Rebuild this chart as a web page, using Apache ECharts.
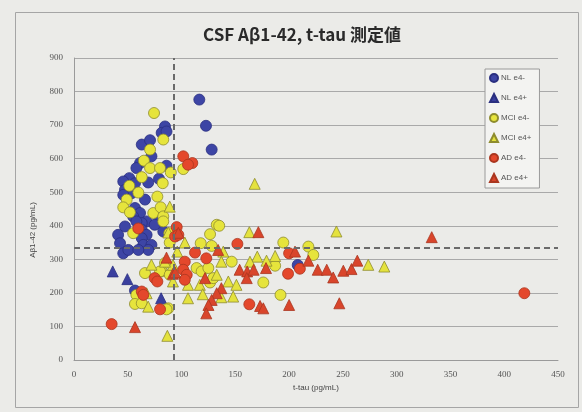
<!DOCTYPE html>
<html><head><meta charset="utf-8">
<script src="https://cdn.jsdelivr.net/npm/echarts@6/dist/echarts.min.js"></script>
<style>html,body{margin:0;padding:0;background:#ebebe8;}#c{width:582px;height:412px;}</style>
</head><body><div id="c"></div>
<script>
const seriesNames = ['NL e4-', 'NL e4+', 'MCI e4-', 'MCI e4+', 'AD e4-', 'AD e4+'];
const xTicks = [0, 50, 100, 150, 200, 250, 300, 350, 400, 450];
const yTicks = [0, 100, 200, 300, 400, 500, 600, 700, 800, 900];
const tauCutoff = 93;
const abCutoff = 335;

const nlNeg = [[116.5,776],[122.7,698],[128,627],[84.6,696],[81.5,677],[86,681],[63,642],[70.7,655],[72,607],[61.4,587],[58,572],[86,579],[51.4,542],[45.8,532],[47.4,507],[69,529],[56.7,527],[79,540],[66,478],[53.6,497],[45.8,492],[56.7,453],[61.4,438],[55,428],[67.5,413],[63,408],[47.4,398],[80,418],[75,403],[58,413],[63,388],[67.5,373],[83,383],[63,363],[41,373],[42.8,348],[45.8,318],[50.5,328],[64.4,343],[72,343],[69,328],[59.8,328],[56.7,207],[208,283]];
const nlPos = [[36,264],[49.6,241],[81,184]];
const mciNeg = [[74.4,736],[83,657],[70.7,627],[65,594],[70.7,572],[80,572],[90,559],[101.6,569],[63,545],[51.4,519],[82.5,527],[59.8,499],[77.5,487],[49,478],[45.8,455],[52,440],[73.7,438],[80.6,455],[83,428],[132.7,403],[83,413],[55,378],[135,400],[126.5,375],[88.6,378],[89,350],[117.8,348],[128,340],[194.6,350],[217.9,338],[222.5,313],[146.6,293],[187,281],[84.6,289],[114,274],[118.7,264],[124.9,274],[81.5,264],[176,231],[126.5,231],[129.5,244],[192,194],[87.7,154],[66,259],[80,264],[89,254],[58,194],[56.7,167],[63,169],[86,151]];
const mciPos = [[89,457],[163,381],[103,350],[96,323],[138.8,323],[170.4,308],[187,310],[137,293],[163.6,293],[179,296],[92,283.6],[132.7,254],[143.5,234],[151,224],[106,224],[117,224],[148,189],[137,187],[119.7,196],[106,184],[168,525],[244,383],[273.6,283.6],[288.5,278.5],[87.7,380],[84.6,293],[72,284],[92,234],[67.5,199],[69,159],[86.8,72]];
const adNeg = [[101.6,607],[110,587],[106,582],[95.5,396],[59.8,392],[94,368],[97,373],[151.9,346],[112.5,320],[123,303],[103,293],[101.6,269],[104.8,254],[103,239],[199,257],[163,166],[75,244],[77.5,234],[63,204],[64.4,194],[80,151],[35,107],[418.7,199],[210,272],[200,318]];
const adPos = [[332.6,366],[205.5,323],[217.9,296],[226.6,269],[235,269],[241,246],[250.4,266],[258,271],[263.4,296],[200,164],[246.7,169],[171.4,381],[97,379],[134,328],[86,305],[154,269],[161,264],[167,269],[178.5,274],[92,257],[121.8,244],[160.6,244],[137,214],[132.7,199],[128,179],[125,164],[123,139],[173,161],[176,154],[56.7,98],[94,261]];

const datasets = [nlNeg, nlPos, mciNeg, mciPos, adNeg, adPos];
const symbols = ['circle', 'triangle', 'circle', 'triangle', 'circle', 'triangle'];
const fills = ['#3d45a5', '#3a3f9e', '#e6e43c', '#e4e23e', '#e4482c', '#d9452b'];
const borders = ['#2a2f80', '#2a2f80', '#8e8c2e', '#8e8c2e', '#aa361f', '#aa361f'];

const series = datasets.map((d, i) => ({
  name: seriesNames[i],
  type: 'scatter',
  data: d,
  symbol: symbols[i],
  symbolSize: symbols[i] === 'circle' ? 11 : 11,
  itemStyle: { color: fills[i], borderColor: borders[i], borderWidth: 0.8, opacity: 1 }
}));
series[0].markLine = {
  silent: true, symbol: 'none', animation: false,
  label: { show: false },
  lineStyle: { color: '#6a6a6a', type: [6, 4], width: 2 },
  data: [{ xAxis: tauCutoff }, { yAxis: abCutoff }]
};

const chart = echarts.init(document.getElementById('c'));
chart.setOption({
  backgroundColor: '#ebebe8',
  animation: false,
  title: {
    text: 'CSF Aβ1-42, t-tau 測定値',
    left: 297, top: 21, textAlign: 'center',
    textStyle: { fontFamily: 'Noto Sans CJK JP', fontSize: 17, fontWeight: 'bold', color: '#2a2a2a' }
  },
  legend: {
    orient: 'vertical', left: 485, top: 69,
    itemWidth: 8, itemHeight: 8, itemGap: 10,
    padding: [4, 8, 5, 4],
    backgroundColor: '#f3f3f1', borderColor: '#9a9a9a', borderWidth: 1,
    textStyle: { fontSize: 8, color: '#555', fontFamily: 'Liberation Sans', padding: [0, 0, 0, -2] },
    data: seriesNames
  },
  grid: { left: 74, right: 24, top: 58, bottom: 52, containLabel: false },
  xAxis: {
    type: 'value', min: xTicks[0], max: xTicks[xTicks.length - 1], interval: 50,
    axisLine: { show: true, lineStyle: { color: '#9a9a9a' } },
    axisTick: { show: false },
    splitLine: { show: false },
    axisLabel: { fontSize: 9, color: '#555', margin: 10, fontFamily: 'Liberation Serif' }
  },
  yAxis: {
    type: 'value', min: yTicks[0], max: yTicks[yTicks.length - 1], interval: 100,
    axisLine: { show: true, lineStyle: { color: '#9a9a9a' } },
    axisTick: { show: false },
    splitLine: { show: true, lineStyle: { color: '#a9a9a9', width: 1 } },
    axisLabel: { fontSize: 9, color: '#555', margin: 11, fontFamily: 'Liberation Serif' }
  },
  graphic: [
    { type: 'rect', left: 13, top: 10, shape: { width: 563, height: 395 }, style: { fill: 'none', stroke: '#a5a5a5', lineWidth: 1 }, z: -1 },
    { type: 'text', x: 316, y: 388, style: { text: 't-tau (pg/mL)', fontSize: 8, fill: '#444', align: 'center', verticalAlign: 'middle', fontFamily: 'Liberation Sans' } },
    { type: 'text', x: 33, y: 230, rotation: Math.PI / 2, style: { text: 'Aβ1-42 (pg/mL)', fontSize: 8, fill: '#444', align: 'center', verticalAlign: 'middle', fontFamily: 'Liberation Sans' } }
  ],
  series: series
});
</script></body></html>
